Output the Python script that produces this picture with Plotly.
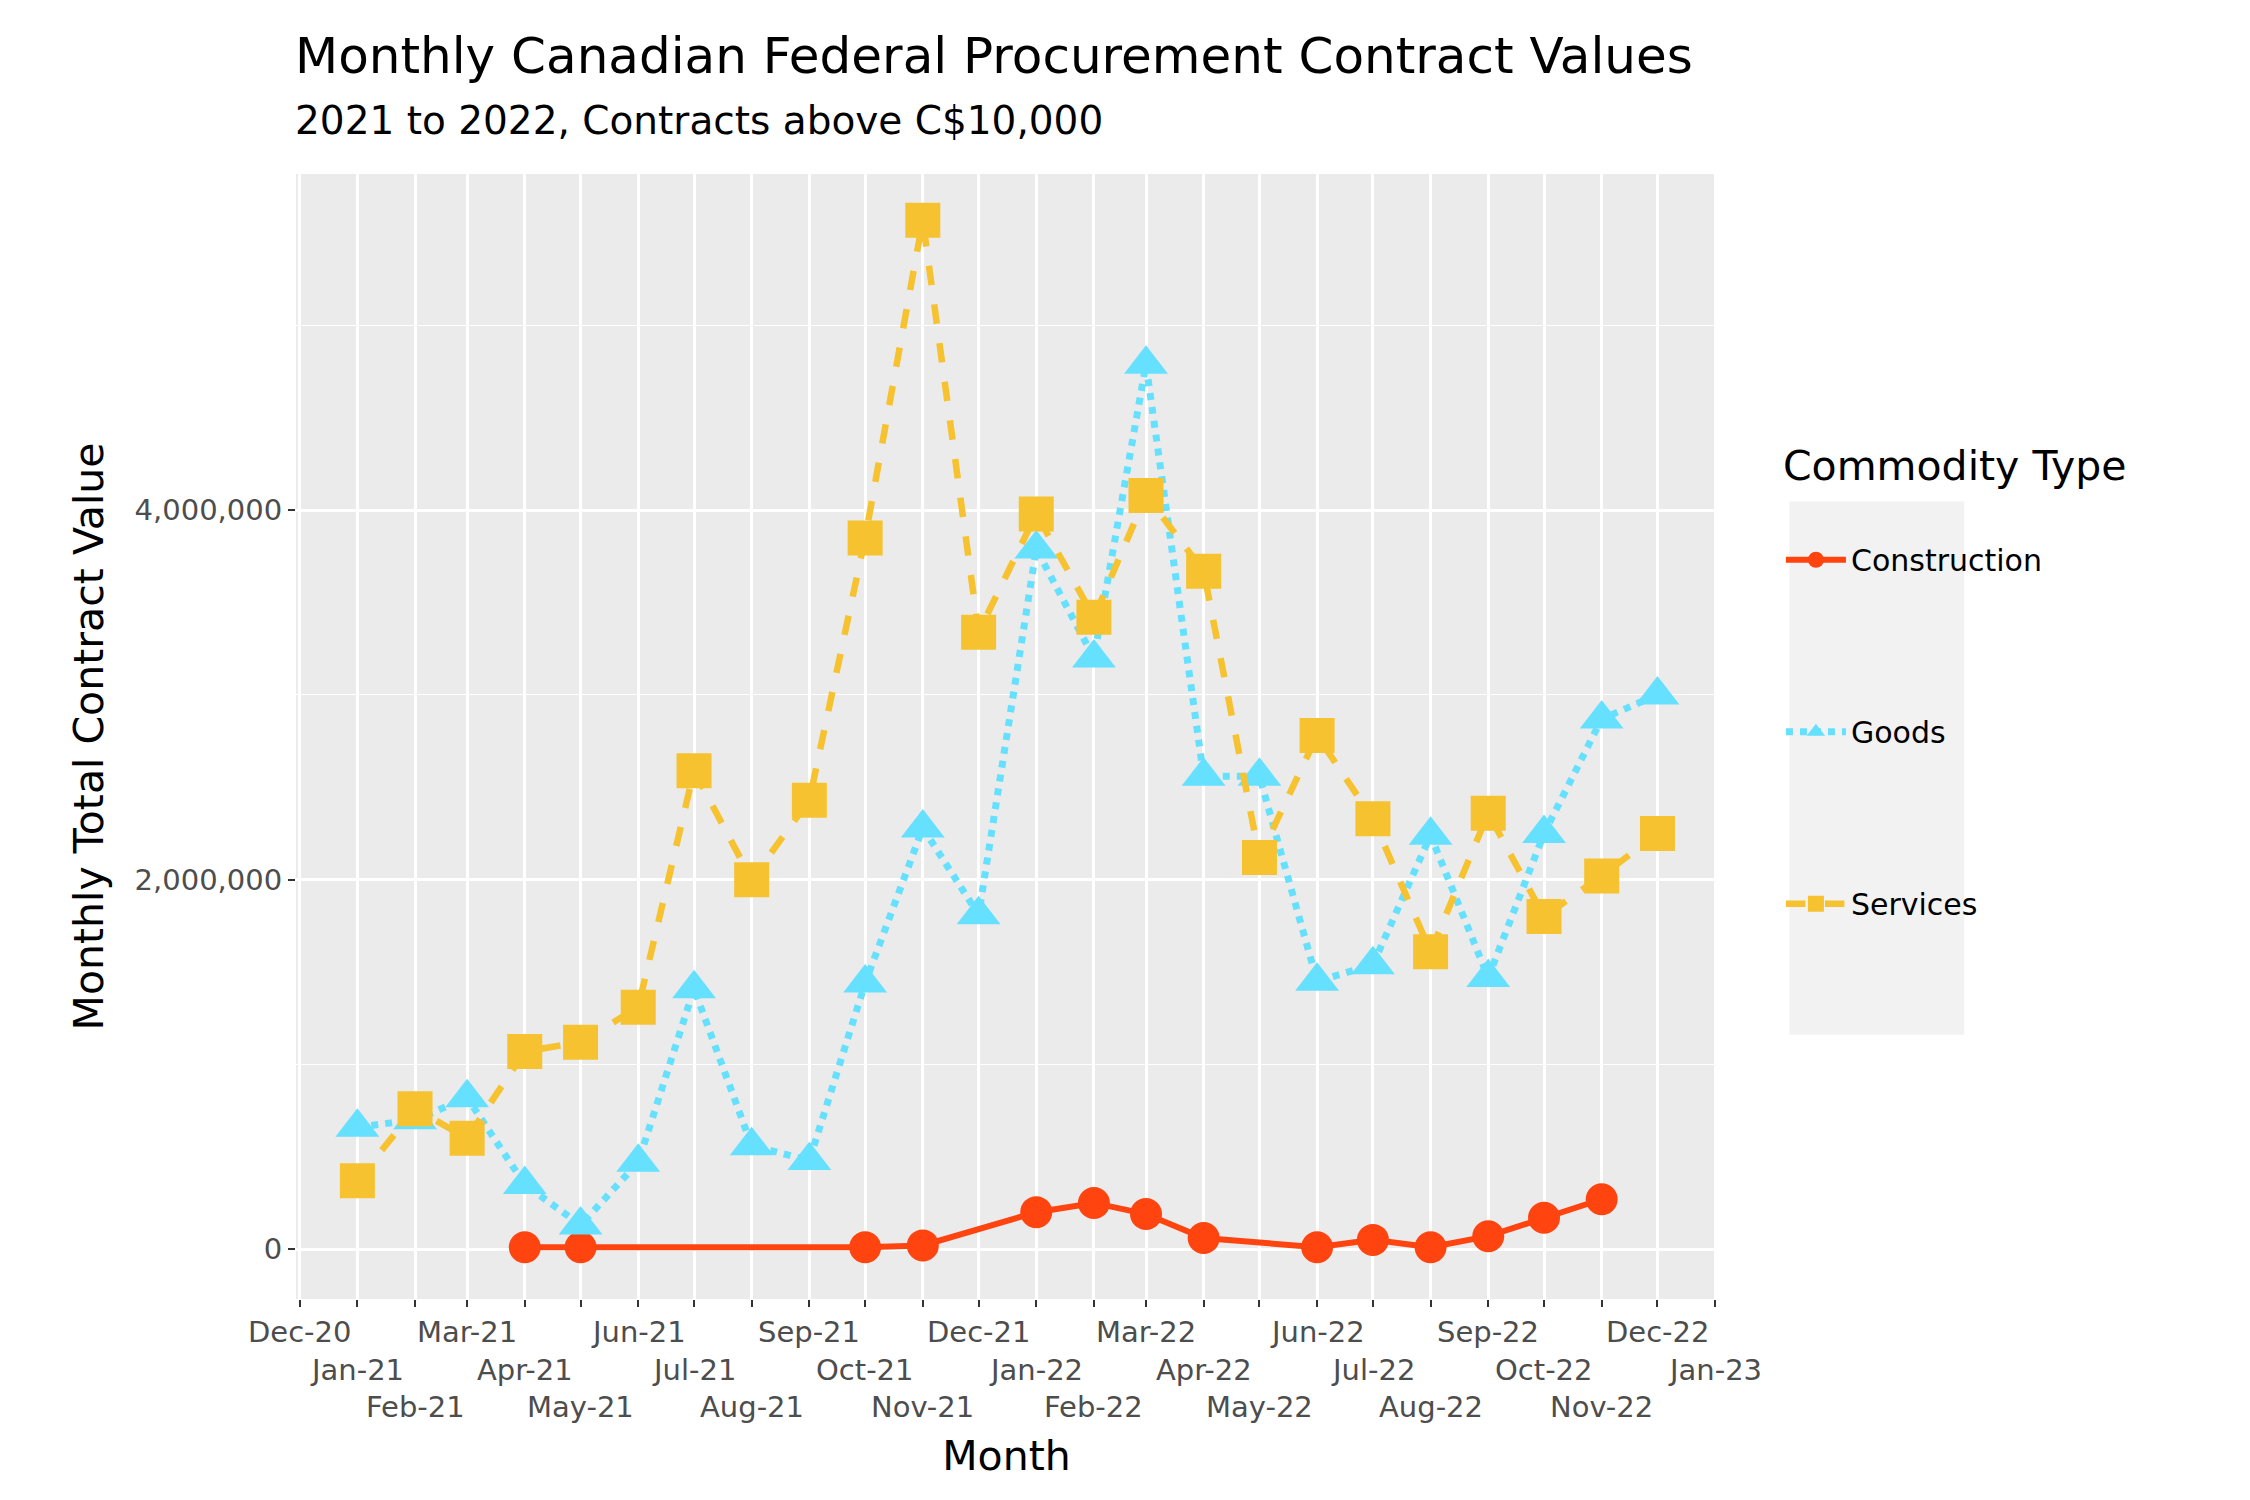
import plotly.graph_objects as go
import pandas as pd

# monthly values (C$)
months = pd.date_range("2021-01-01", "2022-12-01", freq="MS")

goods = [0.66e6, 0.70e6, 0.82e6, 0.35e6, 0.13e6, 0.47e6, 1.41e6, 0.56e6, 0.48e6, 1.44e6, 2.28e6, 1.81e6,
         3.79e6, 3.20e6, 4.79e6, 2.56e6, 2.56e6, 1.45e6, 1.54e6, 2.24e6, 1.47e6, 2.25e6, 2.87e6, 3.00e6]
services = [0.37e6, 0.76e6, 0.60e6, 1.07e6, 1.12e6, 1.31e6, 2.59e6, 2.00e6, 2.43e6, 3.85e6, 5.57e6, 3.34e6,
            3.98e6, 3.42e6, 4.08e6, 3.67e6, 2.12e6, 2.78e6, 2.33e6, 1.61e6, 2.36e6, 1.80e6, 2.02e6, 2.25e6]
construction_months = ["2021-04-01", "2021-05-01", "2021-10-01", "2021-11-01", "2022-01-01", "2022-02-01",
                       "2022-03-01", "2022-04-01", "2022-06-01", "2022-07-01", "2022-08-01", "2022-09-01",
                       "2022-10-01", "2022-11-01"]
construction = [0.01e6, 0.01e6, 0.01e6, 0.02e6, 0.20e6, 0.25e6, 0.19e6, 0.06e6, 0.01e6, 0.05e6, 0.01e6,
                0.07e6, 0.17e6, 0.27e6]

tick_dates = pd.date_range("2020-12-01", "2023-01-01", freq="MS")
tick_labels = [d.strftime("%b-%y") for d in tick_dates]

font = "DejaVu Sans"
fig = go.Figure()
fig.add_trace(go.Scatter(x=construction_months, y=construction, name="Construction", mode="lines+markers",
                         line=dict(color="#FF4410", width=6, dash="solid"),
                         marker=dict(symbol="circle", size=32, color="#FF4410"), legendgroup="c"))
fig.add_trace(go.Scatter(x=months, y=goods, name="Goods", mode="lines+markers",
                         line=dict(color="#66E0FF", width=7, dash="dot"),
                         marker=dict(symbol="triangle-up", size=38, color="#66E0FF"), legendgroup="g"))
fig.add_trace(go.Scatter(x=months, y=services, name="Services", mode="lines+markers",
                         line=dict(color="#F6C230", width=6.5, dash="dash"),
                         marker=dict(symbol="square", size=35, color="#F6C230"), legendgroup="s"))

# staggered month labels (three rows)
for i, (d, lab) in enumerate(zip(tick_dates, tick_labels)):
    fig.add_annotation(x=d, y=0, xref="x", yref="paper", text=lab, showarrow=False,
                       yanchor="middle", yshift=-33 - 37.5 * (i % 3),
                       font=dict(size=29, color="#4D4D4D", family=font))

fig.add_annotation(x=-0.002, y=1, xref="paper", yref="paper", xanchor="left", yanchor="middle",
                   yshift=118, showarrow=False, text="Monthly Canadian Federal Procurement Contract Values",
                   font=dict(size=50, color="black", family=font))
fig.add_annotation(x=-0.002, y=1, xref="paper", yref="paper", xanchor="left", yanchor="middle",
                   yshift=54, showarrow=False, text="2021 to 2022, Contracts above C$10,000",
                   font=dict(size=39, color="black", family=font))

# grey legend key panel
fig.add_shape(type="rect", xref="paper", yref="paper", x0=1.051, x1=1.174, y0=0.235, y1=0.709,
              fillcolor="#F2F2F2", line=dict(width=0), layer="below")

fig.update_layout(
    width=2250, height=1500,
    paper_bgcolor="white", plot_bgcolor="#EBEBEB",
    font=dict(family=font, color="black"),
    margin=dict(l=288, r=541, t=166, b=209),
    legend=dict(title=dict(text="Commodity Type<br> ", font=dict(size=41)),
                font=dict(size=30), bgcolor="rgba(0,0,0,0)",
                x=1.045, y=0.775, xanchor="left", yanchor="top",
                traceorder="grouped", tracegroupgap=130, itemwidth=60),
    showlegend=True,
)
fig.update_xaxes(range=["2020-11-29", "2023-01-02"], tickvals=tick_dates, showticklabels=False,
                 ticks="outside", ticklen=7, tickcolor="#333333", tickwidth=2,
                 gridcolor="white", gridwidth=2.5, showline=False, zeroline=False,
                 title=dict(text="Month", font=dict(size=41), standoff=135))
fig.update_yaxes(range=[-0.27e6, 5.82e6], tickvals=[0, 2e6, 4e6], tickformat=",",
                 tickfont=dict(size=29, color="#4D4D4D"), ticks="outside", ticklen=7, tickcolor="#333333",
                 tickwidth=2, gridcolor="white", gridwidth=2.5, zeroline=False,
                 minor=dict(tickvals=[1e6, 3e6, 5e6], showgrid=True, gridcolor="white", gridwidth=1.2),
                 title=dict(text="Monthly Total Contract Value", font=dict(size=41), standoff=18))

fig.write_html("out.html")
